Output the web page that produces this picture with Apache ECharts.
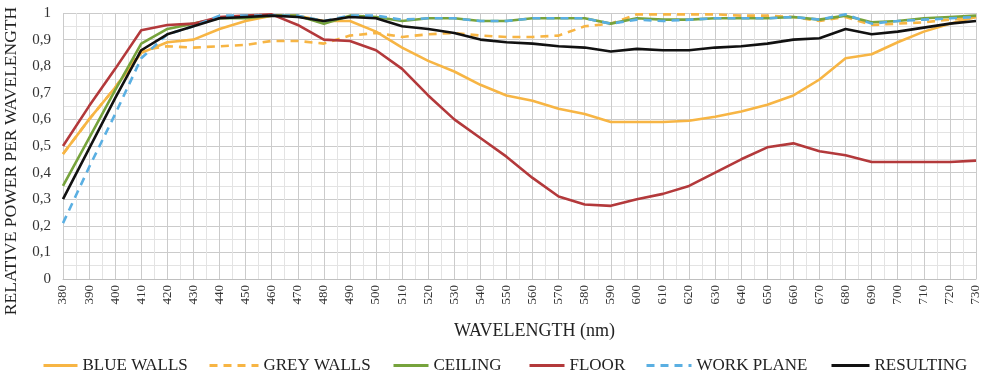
<!DOCTYPE html>
<html>
<head>
<meta charset="utf-8">
<script src="https://cdn.jsdelivr.net/npm/echarts@6/dist/echarts.min.js"></script>
<style>
html,body{margin:0;padding:0;background:#fff;}
#chart{width:984px;height:377px;}
</style>
</head>
<body>
<div id="chart"></div>
<script>
const wavelengths = [380,390,400,410,420,430,440,450,460,470,480,490,500,510,520,530,540,550,560,570,580,590,600,610,620,630,640,650,660,670,680,690,700,710,720,730];
const blueWalls = [0.47,0.60,0.72,0.85,0.89,0.90,0.94,0.97,0.99,0.99,0.97,0.97,0.93,0.87,0.82,0.78,0.73,0.69,0.67,0.64,0.62,0.59,0.59,0.59,0.595,0.61,0.63,0.655,0.69,0.75,0.83,0.845,0.89,0.93,0.96,0.985];
const greyWalls = [0.47,0.60,0.72,0.86,0.875,0.87,0.875,0.88,0.895,0.895,0.885,0.915,0.925,0.91,0.92,0.925,0.915,0.91,0.91,0.915,0.95,0.96,0.995,0.995,0.995,0.995,0.99,0.99,0.985,0.97,0.985,0.955,0.96,0.965,0.975,0.985];
const ceiling = [0.35,0.53,0.71,0.885,0.94,0.96,0.98,0.98,0.99,0.99,0.96,0.99,0.985,0.97,0.98,0.98,0.97,0.97,0.98,0.98,0.98,0.96,0.98,0.975,0.975,0.98,0.98,0.98,0.985,0.975,0.99,0.965,0.97,0.98,0.985,0.99];
const floor = [0.50,0.65,0.79,0.935,0.955,0.96,0.985,0.99,0.995,0.955,0.90,0.895,0.86,0.79,0.69,0.60,0.53,0.46,0.38,0.31,0.28,0.275,0.30,0.32,0.35,0.40,0.45,0.495,0.51,0.48,0.465,0.44,0.44,0.44,0.44,0.445];
const workPlane = [0.21,0.42,0.62,0.83,0.92,0.95,0.99,0.99,0.99,0.99,0.97,0.99,0.99,0.975,0.98,0.98,0.97,0.97,0.98,0.98,0.98,0.96,0.975,0.97,0.975,0.98,0.98,0.98,0.985,0.975,0.995,0.96,0.97,0.975,0.98,0.985];
const resulting = [0.30,0.49,0.68,0.86,0.92,0.95,0.98,0.985,0.99,0.985,0.97,0.985,0.98,0.95,0.94,0.925,0.90,0.89,0.885,0.875,0.87,0.855,0.865,0.86,0.86,0.87,0.875,0.885,0.90,0.905,0.94,0.92,0.93,0.945,0.96,0.97];
const seriesNames = ['BLUE WALLS','GREY WALLS','CEILING','FLOOR','WORK PLANE','RESULTING'];
const yTicks = [0,0.1,0.2,0.3,0.4,0.5,0.6,0.7,0.8,0.9,1];

const FONT = 'Liberation Serif';
function pairs(arr){ return wavelengths.map((w,i)=>[w, arr[i]]); }
function mk(name, data, color, dashed, z){
  return {
    name: name, type:'line', data: pairs(data), symbol:'none', z: z,
    lineStyle:{color: color, width: 2.6, type: dashed ? [8,6] : 'solid'},
    itemStyle:{color: color}
  };
}
// legend layout: [left, lineWidth]
const legendLayout = [[42,34],[208,49],[392,35],[528,35],[645,45],[830,38]];
const legends = seriesNames.map((n,i)=>({
  top:357, left:legendLayout[i][0], padding:0, itemGap:0,
  itemWidth:legendLayout[i][1], itemHeight:16,
  textStyle:{fontFamily:FONT, fontSize:17, color:'#222', padding:[0,0,0,0]},
  lineStyle:{width:3}, itemStyle:{opacity:0},
  data:[{name:n}]
}));
const chart = echarts.init(document.getElementById('chart'));
chart.setOption({
  animation:false,
  backgroundColor:'#fff',
  textStyle:{fontFamily:FONT},
  grid:{left:63, right:8, top:13, bottom:98, containLabel:false, outerBoundsMode:'none'},
  legend: legends,
  xAxis:{
    type:'value', min:380, max:730, interval:10,
    name:'WAVELENGTH (nm)', nameLocation:'middle', nameGap:43,
    nameTextStyle:{fontFamily:FONT, fontSize:18, color:'#222', padding:[0,0,0,30]},
    axisLine:{show:true, lineStyle:{color:'#bfbfbf'}},
    axisTick:{show:false},
    axisLabel:{rotate:90, fontFamily:FONT, fontSize:13, color:'#333', margin:6},
    splitLine:{show:true, lineStyle:{color:'#cbcbcb', width:1}},
    minorTick:{show:false, splitNumber:2},
    minorSplitLine:{show:true, lineStyle:{color:'#e3e3e3', width:1}}
  },
  yAxis:{
    type:'value', min:0, max:1, interval:0.1,
    name:'RELATIVE POWER PER WAVELENGTH', nameLocation:'middle', nameGap:43,
    nameTextStyle:{fontFamily:FONT, fontSize:17.5, color:'#222', padding:[0,30,0,0]},
    axisLine:{show:false}, axisTick:{show:false},
    axisLabel:{fontFamily:FONT, fontSize:15, color:'#333', margin:12,
      formatter:function(v){ const t = yTicks.find(x=>Math.abs(x-v)<1e-9); return String(Math.round((t!==undefined?t:v)*10)/10).replace('.',','); }},
    splitLine:{show:true, lineStyle:{color:'#cbcbcb', width:1}},
    minorTick:{show:false, splitNumber:2},
    minorSplitLine:{show:true, lineStyle:{color:'#e3e3e3', width:1}}
  },
  series:[
    mk(seriesNames[0], blueWalls, '#F7B544', false, 2),
    mk(seriesNames[1], greyWalls, '#F7B544', true, 3),
    mk(seriesNames[2], ceiling, '#76A33C', false, 4),
    mk(seriesNames[3], floor, '#B3393B', false, 5),
    mk(seriesNames[4], workPlane, '#5AAFE2', true, 6),
    mk(seriesNames[5], resulting, '#111111', false, 7)
  ]
});
</script>
</body>
</html>
